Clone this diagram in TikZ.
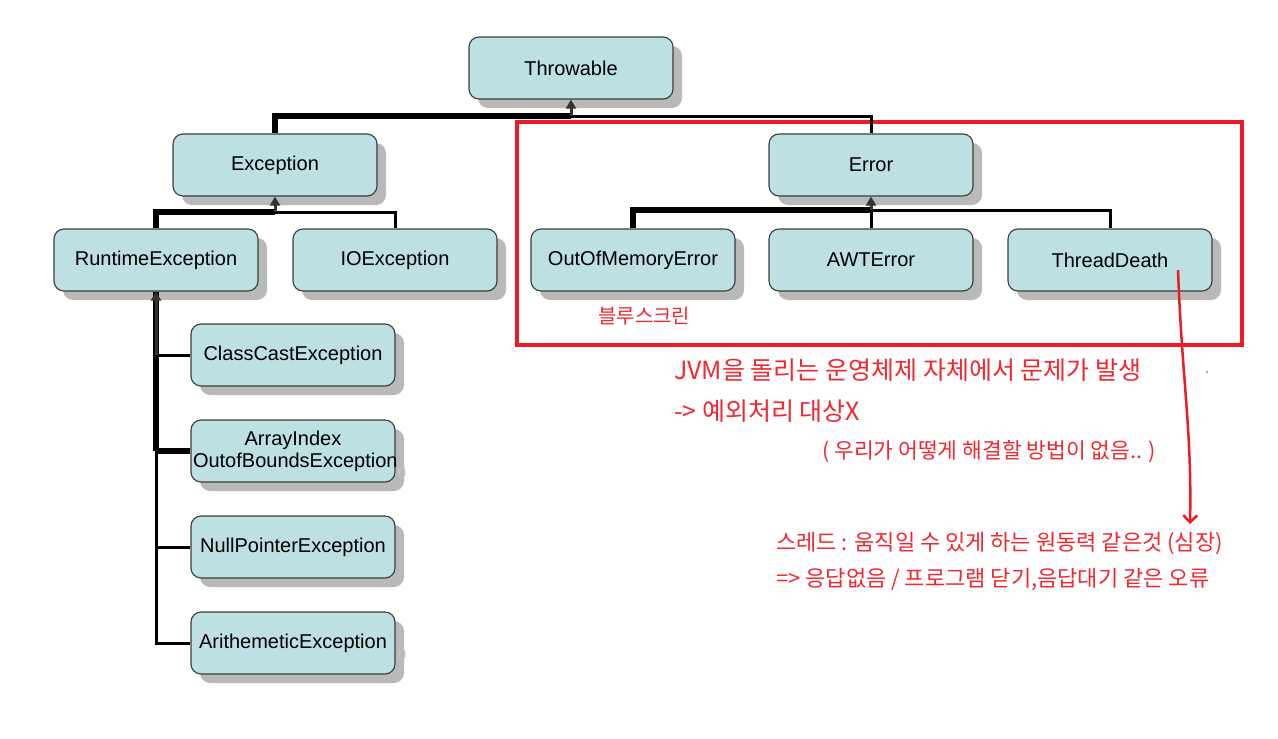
\documentclass[tikz,border=0pt]{standalone}
\usepackage{fontspec}
\setmainfont{Liberation Sans}
\newfontfamily\kr{Noto Sans CJK KR}
\usetikzlibrary{shadows,arrows.meta}
\definecolor{boxfill}{RGB}{189,224,227}
\definecolor{boxline}{RGB}{60,60,60}
\definecolor{myred}{RGB}{237,28,36}
\definecolor{redtext}{RGB}{240,40,48}
\tikzset{
  cls/.style={draw=boxline, line width=1.1pt, fill=boxfill, rounded corners=10pt,
    minimum width=204pt, minimum height=62pt, inner sep=2pt, align=center,
    font=\fontsize{20}{22}\selectfont,
    drop shadow={shadow xshift=9pt, shadow yshift=-9pt, fill=gray!55, opacity=1}},
  busthick/.style={line width=5.5pt, black},
  busthin/.style={line width=3pt, black},
  inh/.style={-{Triangle[width=10pt,length=9pt]}, line width=3pt, black!80},
  redlbl/.style={text=redtext, anchor=west, inner sep=0pt},
  ghost/.style={text=gray!45, inner sep=0pt, font=\fontsize{16}{18}\selectfont}
}
\begin{document}
\begin{tikzpicture}[x=1pt,y=-1pt]
\useasboundingbox[fill=white] (0,0) rectangle (1278,739);

% red frame
\draw[myred, line width=4.5pt] (517,122) rectangle (1242,345);

% classes
\node[cls] (thr) at (571,68) {Throwable};
\node[cls] (exc) at (275,165) {Exception};
\node[cls] (err) at (871,165) {Error};
\node[cls] (rt)  at (156,260) {RuntimeException};
\node[cls] (io)  at (395,260) {IOException};
\node[cls] (oom) at (633,260) {OutOfMemoryError};
\node[cls] (awt) at (871,260) {AWTError};
\node[cls] (td)  at (1110,260) {ThreadDeath};
\node[cls] (cc)  at (293,355) {ClassCastException};
\node[cls, text width=200pt] (ai) at (293,451) {ArrayIndex\\\makebox[200pt][l]{OutofBoundsException}};
\node[cls] (np)  at (293,547) {NullPointerException};
\node[cls] (am)  at (293,643) {ArithemeticException};

% ghost letters
\node[ghost] (g1) at (402,472) {n};
\node[ghost] (g2) at (402,654) {n};

% Throwable hierarchy
\coordinate (j1) at (571,116);
\draw[busthin] (j1) -| (err.north);
\draw[busthick] (exc.north) |- (j1);
\draw[inh] (j1) -- (thr.south);

% Exception hierarchy
\coordinate (j2) at (275,212);
\draw[busthin] (j2) -| (io.north);
\draw[busthick] (rt.north) |- (j2);
\draw[inh] (j2) -- (exc.south);

% Error hierarchy
\coordinate (j3) at (871,210);
\draw[busthin] (j3) -| (td.north);
\draw[busthin] (j3) -- (awt.north);
\draw[busthick] (oom.north) |- (j3);
\draw[inh] (j3) -- (err.south);

% RuntimeException hierarchy
\coordinate (v1) at (156,355);
\coordinate (v2) at (156,451);
\coordinate (v3) at (156,547);
\coordinate (v4) at (156,643);
\draw[busthin] (am.west) -- (v4) -- (v2);
\draw[busthin] (v1) -- (cc.west);
\draw[busthin] (v3) -- (np.west);
\draw[busthick] (v2) -- (ai.west);
\draw[busthick] (v2) -- (rt.south);
\draw[inh] (v1) -- (rt.south);

% red annotations
\node[redlbl, font=\kr\fontsize{20}{22}\selectfont] (blue) at (598,316) {블루스크린};
\node[redlbl, font=\kr\fontsize{25}{28}\selectfont] (l1) at (674,370) {JVM을 돌리는 운영체제 자체에서 문제가 발생};
\node[redlbl, font=\kr\fontsize{25}{28}\selectfont] (l2) at (674,411) {-> 예외처리 대상X};
\node[redlbl, font=\kr\fontsize{21.5}{24}\selectfont] (l3) at (822,452) {( 우리가 어떻게 해결할 방법이 없음.. )};
\node[redlbl, font=\kr\fontsize{22}{24}\selectfont] (l4) at (776,544) {스레드 : 움직일 수 있게 하는 원동력 같은것 (심장)};
\node[redlbl, font=\kr\fontsize{22}{24}\selectfont] (l5) at (776,579) {=> 응답없음 / 프로그램 닫기,음답대기 같은 오류};
\fill[black!70] (1207,372) circle (0.8pt);

\coordinate (tdp) at (1178,270);
\coordinate (tdend) at (1190,524);
\draw[myred, line width=2.5pt, -{Straight Barb[length=7pt,width=14pt,line width=2.5pt]}]
  (tdp) .. controls (1182,380) and (1192,430) .. (tdend);
\end{tikzpicture}
\end{document}
